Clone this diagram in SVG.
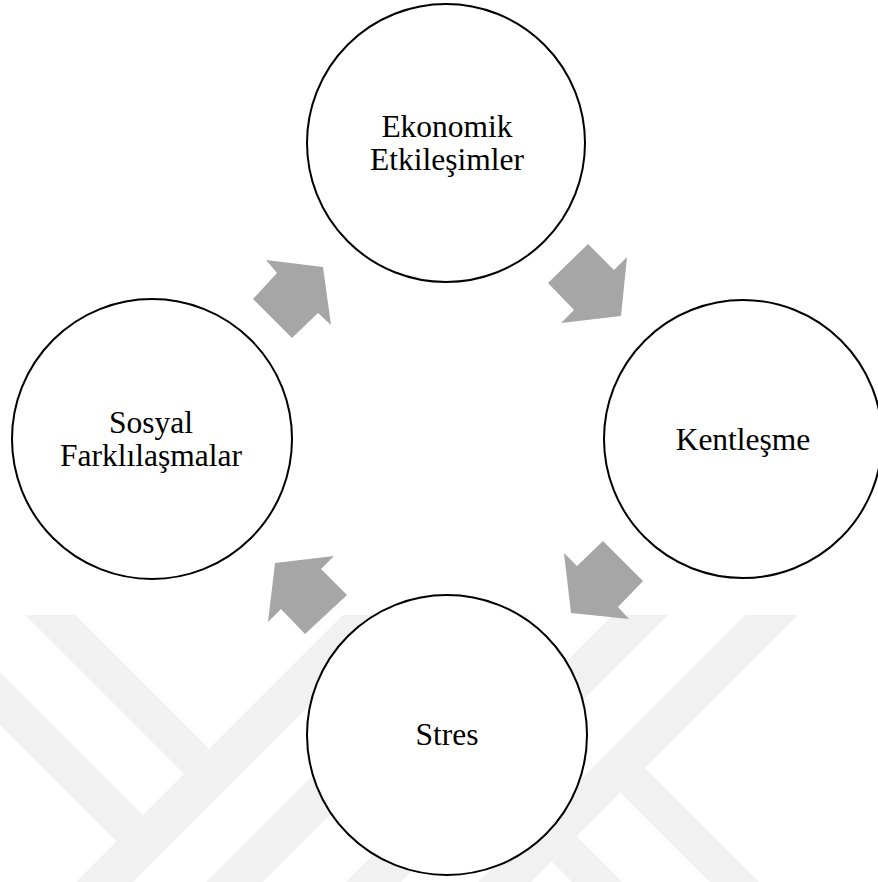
<svg xmlns="http://www.w3.org/2000/svg" width="878" height="882" viewBox="0 0 878 882">
<style>
.wm{fill:#f1f1f1}
.node circle{fill:#ffffff;stroke:#000000;stroke-width:2}
.node text{font-family:"Liberation Serif","Times New Roman",serif;font-size:31.5px;fill:#000000;text-anchor:middle}
.arrow{fill:#a6a6a6}
</style>
<rect x="0" y="0" width="878" height="882" fill="#ffffff"/>
<g id="watermark">
<polygon class="wm" points="343,615 400,615 133,882 76,882"/>
<polygon class="wm" points="473,615 530,615 263,882 206,882"/>
<polygon class="wm" points="613,615 668,615 401,882 346,882"/>
<polygon class="wm" points="745,615 798,615 531,882 478,882"/>
<polygon class="wm" points="25,615 75,615 209,749 184,774"/>
<polygon class="wm" points="0,672 143,815 116.5,841.5 0,725"/>
<polygon class="wm" points="645,768 759,882 710,882 620.5,792.5"/>
<polygon class="wm" points="576.5,836.5 622,882 572,882 551.5,861.5"/>
</g>
<g id="connectors">
<polygon class="arrow" points="588,244 614,270 627,257 621,316 561,323 574,310 548,283"/>
<polygon class="arrow" points="603,541 643,581 618,607 629,619 571,613 564,553 577,566"/>
<polygon class="arrow" points="275,563 334,556 321,569 347,595 305,634 281,609 268,622"/>
<polygon class="arrow" points="266,260 323,267 331,325 318,313 292,338 253,299 277,273"/>
</g>
<g id="node-ekonomik" class="node">
<circle cx="446" cy="143" r="139"/>
<text x="447" y="137" font-family="Liberation Serif, serif">Ekonomik</text>
<text x="447" y="170" font-family="Liberation Serif, serif">Etkileşimler</text>
</g>
<g id="node-kentlesme" class="node">
<circle cx="743" cy="439" r="139"/>
<text x="743" y="450" font-family="Liberation Serif, serif">Kentleşme</text>
</g>
<g id="node-stres" class="node">
<circle cx="447" cy="735" r="140"/>
<text x="447" y="745" font-family="Liberation Serif, serif">Stres</text>
</g>
<g id="node-sosyal" class="node">
<circle cx="152" cy="439" r="140"/>
<text x="151" y="433" font-family="Liberation Serif, serif">Sosyal</text>
<text x="151" y="466" font-family="Liberation Serif, serif">Farklılaşmalar</text>
</g>
</svg>
